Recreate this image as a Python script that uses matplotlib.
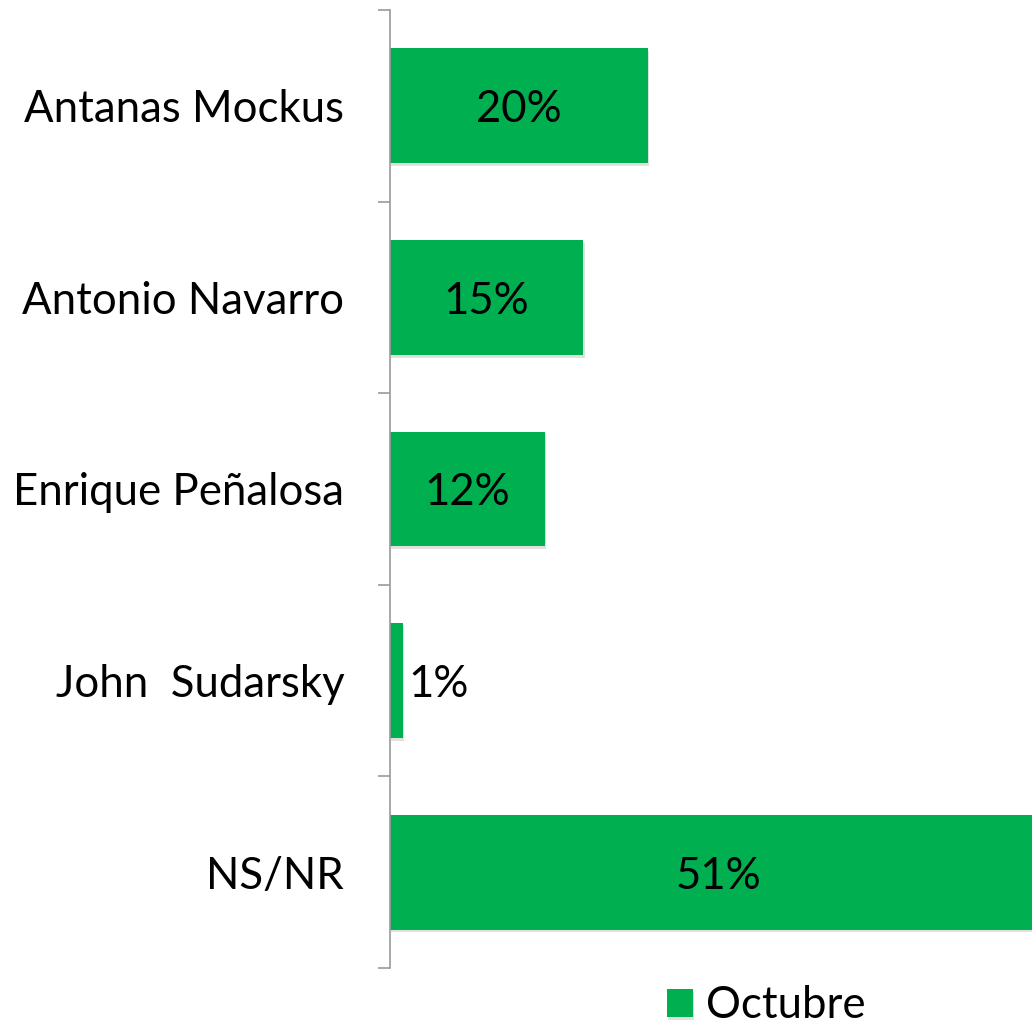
import matplotlib
matplotlib.use("Agg")
import matplotlib.pyplot as plt
import matplotlib.patheffects as pe
import numpy as np

candidates = ["Antanas Mockus", "Antonio Navarro", "Enrique Peñalosa", "John  Sudarsky", "NS/NR"]
octubre = [0.20, 0.15, 0.12, 0.01, 0.51]
series_name = "Octubre"

green = "#00B050"
plt.rcParams['font.family'] = ['Lato', 'DejaVu Sans']

fig = plt.figure(figsize=(10.32, 10.25), dpi=100)
ax = fig.add_axes([390 / 1032, 1 - 968 / 1025, 1 - 390 / 1032, 958 / 1025])

y = np.arange(len(candidates))
bars = ax.barh(y, octubre, height=0.6, color=green, label=series_name,
               path_effects=[pe.SimplePatchShadow(offset=(1, -2), alpha=0.12, shadow_rgbFace="black"), pe.Normal()])

# the last bar runs past the right edge, as in the original
ax.set_xlim(0, 0.498)
ax.set_ylim(len(candidates) - 0.5, -0.5)

# labels on the bars
for yi, v in zip(y, octubre):
    txt = f"{v * 100:.0f}%"
    if v < 0.05:
        ax.text(v + 0.004, yi + 0.02, txt, ha="left", va="center", fontsize=31.5, color="black")
    else:
        ax.text(v / 2, yi + 0.02, txt, ha="center", va="center", fontsize=31.5, color="black")

# category labels, ticks between categories
ax.set_yticks(y)
ax.set_yticklabels(candidates, fontsize=31.5)
ax.tick_params(axis="y", which="major", length=0, pad=33)
ax.set_yticks(np.arange(len(candidates) + 1) - 0.5, minor=True)
ax.tick_params(axis="y", which="minor", length=9, width=1.2, color="#9a9a9a")
ax.set_xticks([])

for s in ["top", "right", "bottom"]:
    ax.spines[s].set_visible(False)
ax.spines["left"].set_color("#9a9a9a")
ax.spines["left"].set_linewidth(1.2)

fig.legend(handles=[bars], labels=[series_name], loc="center", bbox_to_anchor=(766 / 1032, 1 - 1006 / 1025),
           frameon=False, fontsize=31.5, handlelength=0.6, handleheight=0.6, handletextpad=0.3)

fig.savefig("out.png", dpi=100)
